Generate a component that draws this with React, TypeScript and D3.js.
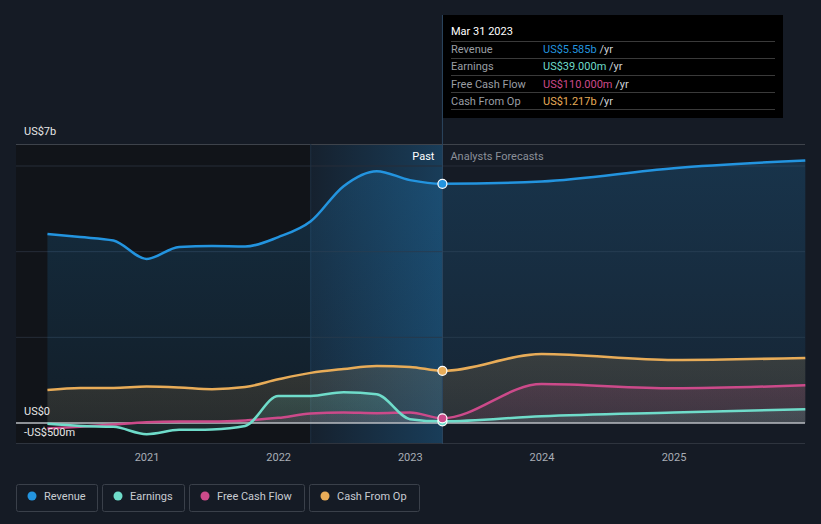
import React from 'react';
import * as d3 from 'd3';

const pastDates = ["2020-03-31","2020-06-30","2020-09-30","2020-12-31","2021-03-31","2021-06-30","2021-09-30","2021-12-31","2022-03-31","2022-06-30","2022-09-30","2022-12-31","2023-03-31"];
const forecastDates = ["2023-03-31","2023-12-31","2024-12-31","2025-12-31"];
const revenuePast = [4.41,4.34,4.26,3.83,4.11,4.13,4.12,4.34,4.71,5.53,5.88,5.67,5.585];
const revenueFc = [5.585,5.64,5.95,6.13];
const earningsPast = [-0.02,-0.07,-0.09,-0.26,-0.16,-0.15,-0.07,0.63,0.63,0.72,0.67,0.09,0.039];
const earningsFc = [0.039,0.16,0.245,0.32];
const fcfPast = [-0.13,-0.09,-0.035,0.02,0.035,0.035,0.06,0.12,0.22,0.245,0.23,0.245,0.11];
const fcfFc = [0.11,0.91,0.81,0.88];
const cfoPast = [0.77,0.82,0.82,0.85,0.83,0.79,0.84,1.02,1.17,1.26,1.33,1.31,1.217];
const cfoFc = [1.217,1.61,1.47,1.52];
const yearTicks = [2021,2022,2023,2024,2025];
const gridValues = [2,4,6];

const seriesNames = ["Revenue","Earnings","Free Cash Flow","Cash From Op"];
const seriesColors = ["#2394df","#6fdcca","#cc4a8a","#e8ac58"];
const tooltipValues = ["US$5.585b","US$39.000m","US$110.000m","US$1.217b"];

const parse = d3.timeParse("%Y-%m-%d");

export default function App() {
  const W = 821, H = 524;
  const x = d3.scaleTime().domain([new Date(2021,0,1), new Date(2025,0,1)]).range([147, 674]);
  const y = d3.scaleLinear().domain([0, 6]).range([423, 166]);
  const pd = pastDates.map(d => parse(d)!);
  const fd = forecastDates.map(d => parse(d)!);
  const mk = (past: number[], fc: number[]) => [
    ...past.map((v, i) => ({ d: pd[i], v })),
    ...fc.slice(1).map((v, i) => ({ d: fd[i + 1], v })),
  ];
  const series = [
    mk(revenuePast, revenueFc),
    mk(earningsPast, earningsFc),
    mk(fcfPast, fcfFc),
    mk(cfoPast, cfoFc),
  ];
  const line = d3.line<{d: Date, v: number}>().x(p => x(p.d)).y(p => y(p.v)).curve(d3.curveMonotoneX);
  const area = d3.area<{d: Date, v: number}>().x(p => x(p.d)).y0(y(0)).y1(p => y(p.v)).curve(d3.curveMonotoneX);
  const now = parse("2023-03-31")!;
  const xNow = x(now);
  const xPastStart = x(parse("2022-03-31")!);
  const lastVals = [revenuePast[12], earningsPast[12], fcfPast[12], cfoPast[12]];
  const font = "Roboto, 'Open Sans', sans-serif";
  const areaOrder = [0, 3, 2, 1];
  const legendX = [16, 102, 189, 309];
  const legendW = [81, 82, 115, 110];

  return (
    <svg width={W} height={H} style={{ position: 'absolute', left: 0, top: 0, display: 'block' }} fontFamily={font}>
      <defs>
        {seriesColors.map((c, i) => (
          <linearGradient key={i} id={`ag${i}`} x1="0" y1="0" x2="0" y2="1">
            <stop offset="0%" stopColor={c} stopOpacity={i === 0 ? 0.2 : 0.16} />
            <stop offset="100%" stopColor={c} stopOpacity={i === 0 ? 0.08 : 0.1} />
          </linearGradient>
        ))}
        <linearGradient id="pastHl" x1="0" y1="0" x2="1" y2="0">
          <stop offset="0%" stopColor="#2394df" stopOpacity={0.05} />
          <stop offset="100%" stopColor="#2394df" stopOpacity={0.28} />
        </linearGradient>
      </defs>
      <rect x={0} y={0} width={W} height={H} fill="#151b25" />
      <rect x={16} y={144} width={xPastStart - 16} height={444 - 144} fill="#111419" />
      <rect x={xPastStart} y={144} width={xNow - xPastStart} height={444 - 144} fill="url(#pastHl)" />
      <line x1={16} x2={805} y1={144.5} y2={144.5} stroke="#3e434b" strokeWidth={1} />
      {gridValues.map(g => (
        <line key={g} x1={16} x2={805} y1={y(g)} y2={y(g)} stroke="#262d38" strokeWidth={1} />
      ))}
      <line x1={16} x2={805} y1={443.5} y2={443.5} stroke="#2e343e" strokeWidth={1} />
      <line x1={xPastStart} x2={xPastStart} y1={144} y2={444} stroke="#1f3244" strokeWidth={1} />
      {areaOrder.map(i => (
        <path key={i} d={area(series[i]) || ''} fill={`url(#ag${i})`} />
      ))}
      <line x1={16} x2={805} y1={y(0)} y2={y(0)} stroke="#b8bcc2" strokeWidth={1.5} />
      {areaOrder.map(i => (
        <path key={i} d={line(series[i]) || ''} fill="none" stroke={seriesColors[i]} strokeWidth={2.5} />
      ))}
      <line x1={xNow} x2={xNow} y1={15} y2={444} stroke="#2c4660" strokeWidth={1} />
      {[1, 2, 3, 0].map(i => (
        <circle key={i} cx={xNow} cy={y(lastVals[i])} r={4.5} fill={seriesColors[i]} stroke="#ffffff" strokeWidth={1.2} />
      ))}
      <text x={xNow - 8} y={160} textAnchor="end" fill="#ffffff" fontSize={11}>Past</text>
      <text x={xNow + 8} y={160} fill="#8b9099" fontSize={11}>Analysts Forecasts</text>
      <text x={24} y={135} fill="#e6e6e6" fontSize={11}>US$7b</text>
      <text x={24} y={415} fill="#e6e6e6" fontSize={11}>US$0</text>
      <text x={24} y={436} fill="#e6e6e6" fontSize={11}>-US$500m</text>
      {yearTicks.map(t => (
        <text key={t} x={x(new Date(t, 0, 1))} y={461} textAnchor="middle" fill="#a8adb5" fontSize={11}>{t}</text>
      ))}
      <rect x={443} y={15} width={340} height={103} fill="#000000" />
      <text x={451} y={35} fill="#ffffff" fontSize={11}>Mar 31 2023</text>
      {[41, 58, 75, 92, 109].map(ly => (
        <line key={ly} x1={451} x2={775} y1={ly + 0.5} y2={ly + 0.5} stroke="#3a3a3a" strokeWidth={1} />
      ))}
      {seriesNames.map((n, i) => (
        <g key={n}>
          <text x={451} y={53 + i * 17.3} fill="#9a9ea4" fontSize={11}>{n}</text>
          <text x={543} y={53 + i * 17.3} fontSize={11}>
            <tspan fill={seriesColors[i]}>{tooltipValues[i]}</tspan>
            <tspan fill="#cfd2d6"> /yr</tspan>
          </text>
        </g>
      ))}
      {seriesNames.map((n, i) => (
        <g key={n}>
          <rect x={legendX[i] + 0.5} y={484.5} width={legendW[i]} height={27} rx={2} fill="none" stroke="#3a404a" strokeWidth={1} />
          <circle cx={legendX[i] + 16} cy={496} r={4.5} fill={seriesColors[i]} />
          <text x={legendX[i] + 28} y={500} fill="#c8ccd2" fontSize={11}>{n}</text>
        </g>
      ))}
    </svg>
  );
}
